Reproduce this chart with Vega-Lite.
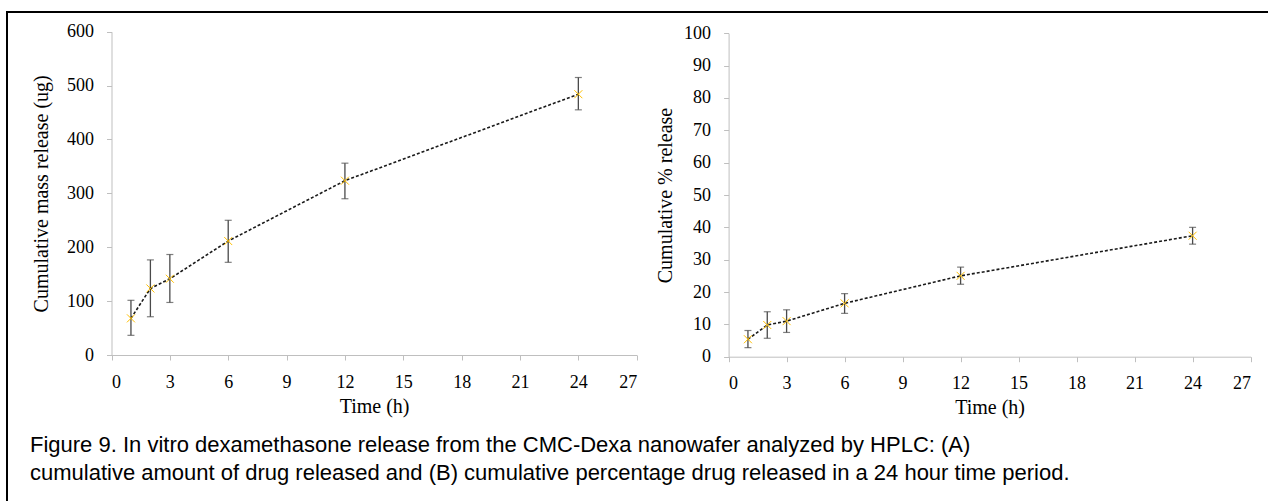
{
  "$schema": "https://vega.github.io/schema/vega-lite/v6.json",
  "width": 1280,
  "height": 500,
  "autosize": {"type": "none"},
  "padding": {"left": 7, "top": 12, "right": -19, "bottom": -11},
  "background": "white",
  "config": {
    "view": {"stroke": "#000000", "strokeWidth": 2},
    "axis": {
      "grid": false,
      "domainColor": "#bfbfbf",
      "domainWidth": 1,
      "tickColor": "#bfbfbf",
      "tickSize": 5,
      "labelFont": "Liberation Serif",
      "labelFontSize": 18,
      "labelColor": "#000000",
      "labelPadding": 13,
      "titleFont": "Liberation Serif",
      "titleFontSize": 20,
      "titleFontWeight": "normal",
      "titleColor": "#000000"
    }
  },
  "title": {
    "text": [
      "Figure 9. In vitro dexamethasone release from the CMC-Dexa nanowafer analyzed by HPLC: (A)",
      "cumulative amount of drug released and (B) cumulative percentage drug released in a 24 hour time period."
    ],
    "orient": "bottom",
    "anchor": "start",
    "frame": "group",
    "offset": -60,
    "dx": 23,
    "font": "Liberation Sans",
    "fontSize": 22,
    "fontWeight": "normal",
    "lineHeight": 28,
    "baseline": "alphabetic",
    "color": "#000000"
  },
  "datasets": {
    "mass": [
      {"t": 1, "v": 68, "lo": 36.5, "hi": 101.5},
      {"t": 2, "v": 123.5, "lo": 71, "hi": 176.5},
      {"t": 3, "v": 141.5, "lo": 97.5, "hi": 186.5},
      {"t": 6, "v": 211.5, "lo": 172, "hi": 250},
      {"t": 12, "v": 323.5, "lo": 290, "hi": 356},
      {"t": 24, "v": 484, "lo": 455, "hi": 515}
    ],
    "pct": [
      {"t": 1, "v": 5.4, "lo": 2.8, "hi": 8.1},
      {"t": 2, "v": 9.8, "lo": 5.7, "hi": 13.9},
      {"t": 3, "v": 11.0, "lo": 7.5, "hi": 14.5},
      {"t": 6, "v": 16.5, "lo": 13.4, "hi": 19.5},
      {"t": 12, "v": 25.0, "lo": 22.4, "hi": 27.7},
      {"t": 24, "v": 37.4, "lo": 34.8, "hi": 40.0}
    ]
  },
  "layer": [
    {
      "data": {"name": "mass"},
      "encoding": {
        "x": {
          "field": "t",
          "type": "quantitative",
          "scale": {"domain": [0, 27], "range": [104.5, 629.7], "nice": false, "zero": false},
          "axis": {"orient": "bottom", "offset": -157, "values": [0, 3, 6, 9, 12, 15, 18, 21, 24, 27], "title": "Time (h)", "titlePadding": 5}
        }
      },
      "layer": [
        {
          "mark": {"type": "errorbar", "color": "#4a4a4a", "thickness": 1.3, "ticks": {"size": 7, "thickness": 1.2, "color": "#4a4a4a"}},
          "encoding": {
            "y": {"field": "lo", "type": "quantitative", "title": "Cumulative mass release (ug)"},
            "y2": {"field": "hi"}
          }
        },
        {
          "mark": {"type": "line", "strokeDash": [3, 2], "color": "#1a1a1a", "strokeWidth": 1.6},
          "encoding": {
            "y": {
              "field": "v",
              "type": "quantitative",
              "scale": {"domain": [0, 600], "range": [343, 19.7], "nice": false, "zero": false},
              "axis": {"orient": "left", "offset": -104.5, "values": [0, 100, 200, 300, 400, 500, 600], "title": "Cumulative mass release (ug)", "titlePadding": 15}
            }
          }
        },
        {
          "mark": {"type": "point", "shape": "M-1,-1L1,1M-1,1L1,-1", "filled": false, "size": 64, "color": "#FFC000", "strokeWidth": 1, "opacity": 1},
          "encoding": {
            "y": {"field": "v", "type": "quantitative", "title": "Cumulative mass release (ug)"}
          }
        }
      ]
    },
    {
      "data": {"name": "pct"},
      "encoding": {
        "x": {
          "field": "t",
          "type": "quantitative",
          "scale": {"domain": [0, 27], "range": [721.6, 1243.6], "nice": false, "zero": false},
          "axis": {"orient": "bottom", "offset": -155.3, "values": [0, 3, 6, 9, 12, 15, 18, 21, 24, 27], "title": "Time (h)", "titlePadding": 5}
        }
      },
      "layer": [
        {
          "mark": {"type": "errorbar", "color": "#4a4a4a", "thickness": 1.3, "ticks": {"size": 7, "thickness": 1.2, "color": "#4a4a4a"}},
          "encoding": {
            "y": {"field": "lo", "type": "quantitative", "title": "Cumulative % release"},
            "y2": {"field": "hi"}
          }
        },
        {
          "mark": {"type": "line", "strokeDash": [3, 2], "color": "#1a1a1a", "strokeWidth": 1.6},
          "encoding": {
            "y": {
              "field": "v",
              "type": "quantitative",
              "scale": {"domain": [0, 100], "range": [344.7, 21.3], "nice": false, "zero": false},
              "axis": {"orient": "left", "offset": -721.6, "values": [0, 10, 20, 30, 40, 50, 60, 70, 80, 90, 100], "title": "Cumulative % release", "titlePadding": 8}
            }
          }
        },
        {
          "mark": {"type": "point", "shape": "M-1,-1L1,1M-1,1L1,-1", "filled": false, "size": 64, "color": "#FFC000", "strokeWidth": 1, "opacity": 1},
          "encoding": {
            "y": {"field": "v", "type": "quantitative", "title": "Cumulative % release"}
          }
        }
      ]
    }
  ],
  "resolve": {
    "scale": {"x": "independent", "y": "independent"},
    "axis": {"x": "independent", "y": "independent"}
  }
}
